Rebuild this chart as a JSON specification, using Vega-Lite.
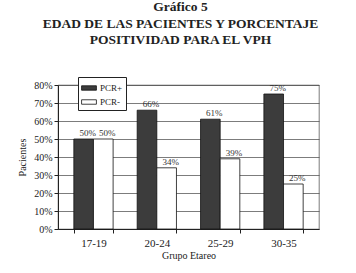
{
  "$schema": "https://vega.github.io/schema/vega-lite/v6.json",
  "autosize": {"type": "none"},
  "padding": {"left": 58, "top": 85, "right": 37, "bottom": 44},
  "width": 261,
  "height": 144,
  "background": "white",
  "title": {
    "text": ["Gráfico 5", "EDAD DE LAS PACIENTES Y PORCENTAJE", "POSITIVIDAD PARA EL VPH"],
    "font": "Liberation Serif",
    "fontSize": 13.5,
    "fontWeight": "bold",
    "lineHeight": 16.5,
    "color": "#222",
    "anchor": "middle",
    "dx": -8,
    "offset": 30
  },
  "data": {
    "values": [
      {"grupo": "17-19", "serie": "PCR+", "valor": 0.50},
      {"grupo": "17-19", "serie": "PCR-", "valor": 0.50},
      {"grupo": "20-24", "serie": "PCR+", "valor": 0.66},
      {"grupo": "20-24", "serie": "PCR-", "valor": 0.34},
      {"grupo": "25-29", "serie": "PCR+", "valor": 0.61},
      {"grupo": "25-29", "serie": "PCR-", "valor": 0.39},
      {"grupo": "30-35", "serie": "PCR+", "valor": 0.75},
      {"grupo": "30-35", "serie": "PCR-", "valor": 0.25}
    ]
  },
  "encoding": {
    "x": {
      "field": "grupo", "type": "nominal",
      "scale": {"paddingInner": 0.38, "paddingOuter": 0.25},
      "axis": {
        "title": "Grupo Etareo", "labelAngle": 0, "tickBand": "extent",
        "labelFont": "Liberation Serif", "labelFontSize": 11, "labelColor": "#222",
        "titleFont": "Liberation Serif", "titleFontSize": 10, "titleFontWeight": "normal", "titleColor": "#222",
        "domainColor": "#222", "tickColor": "#222", "tickSize": 4, "labelPadding": 4, "titlePadding": 2
      }
    },
    "xOffset": {"field": "serie", "type": "nominal", "sort": ["PCR+", "PCR-"]},
    "y": {
      "field": "valor", "type": "quantitative",
      "scale": {"domain": [0, 0.8]},
      "axis": {
        "title": "Pacientes", "format": ".0%", "values": [0, 0.1, 0.2, 0.3, 0.4, 0.5, 0.6, 0.7, 0.8],
        "labelFont": "Liberation Serif", "labelFontSize": 10, "labelColor": "#222",
        "titleFont": "Liberation Serif", "titleFontSize": 10, "titleFontWeight": "normal", "titleColor": "#222",
        "domainColor": "#222", "tickColor": "#222", "tickSize": 4, "titlePadding": 6,
        "grid": true, "gridColor": "#444", "gridWidth": 0.7
      }
    }
  },
  "layer": [
    {
      "mark": {"type": "bar", "stroke": "#111", "strokeWidth": 0.8},
      "encoding": {
        "fill": {
          "field": "serie", "type": "nominal",
          "scale": {"domain": ["PCR+", "PCR-"], "range": ["#3c3c3c", "#ffffff"]},
          "legend": {
            "title": null, "orient": "none", "legendX": 20, "legendY": -8,
            "direction": "vertical",
            "strokeColor": "#222", "padding": 3, "fillColor": "white",
            "symbolType": "M-1,-0.3H1V0.3H-1Z", "symbolSize": 220,
            "symbolStrokeColor": "#111", "symbolStrokeWidth": 0.8,
            "labelFont": "Liberation Serif", "labelFontSize": 9, "labelColor": "#222",
            "rowPadding": 1, "labelOffset": 3
          }
        }
      }
    },
    {
      "mark": {"type": "text", "dy": -6, "dx": 4, "font": "Liberation Serif", "fontSize": 9, "fill": "#333"},
      "encoding": {
        "text": {"field": "valor", "type": "quantitative", "format": ".0%"}
      }
    }
  ],
  "config": {
    "view": {"stroke": "#444", "strokeWidth": 0.7}
  }
}
